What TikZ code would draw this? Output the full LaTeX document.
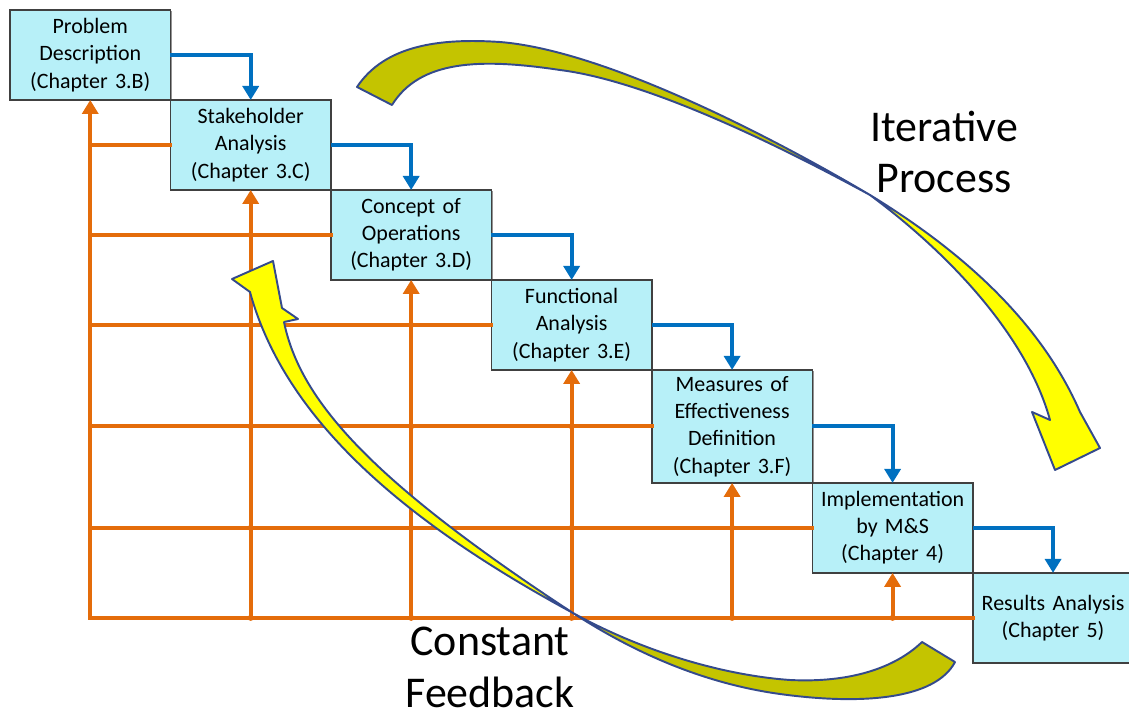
\documentclass[tikz,border=0pt]{standalone}
\usepackage{fontspec}
\setmainfont{Carlito}
\usetikzlibrary{arrows.meta, positioning, shadows}

\definecolor{boxcyan}{RGB}{183,240,248}
\definecolor{flowblue}{RGB}{0,112,192}
\definecolor{feedorange}{RGB}{228,108,10}
\definecolor{ribbonyellow}{RGB}{255,255,0}
\definecolor{ribbonolive}{RGB}{196,196,0}
\definecolor{ribbonedge}{RGB}{52,74,140}

\begin{document}
\begin{tikzpicture}[
        x=0.02cm, y=-0.02cm,
        % Process steps
        stepbox/.style={
                rectangle,
                draw=black!75,
                line width=0.8pt,
                fill=boxcyan,
                minimum width=3.21cm,
                minimum height=1.8cm,
                text width=3cm,
                align=center,
                inner sep=2pt,
                outer sep=0pt,
                font=\fontsize{12.5}{15.5}\selectfont,
                drop shadow={shadow xshift=0.8pt, shadow yshift=-0.8pt, fill=black!60, opacity=0.7}
            },
        % Forward flow
        flow/.style={
                -{Triangle[length=2.8mm, width=3.2mm]},
                line width=2.3pt,
                color=flowblue
            },
        % Feedback grid
        feedline/.style={
                line width=2.3pt,
                line cap=rect,
                color=feedorange
            },
        feed/.style={
                feedline,
                -{Triangle[length=2.8mm, width=3.2mm]}
            },
        % Curved ribbon arrows
        ribbonback/.style={
                fill=ribbonolive,
                draw=ribbonedge,
                line width=1.1pt,
                line join=round
            },
        ribbonfront/.style={
                ribbonback,
                fill=ribbonyellow
            },
        bigtext/.style={
                align=center,
                font=\fontsize{25}{29.5}\selectfont
            }
    ]

    \useasboundingbox (0,0) rectangle (1129,716);

    % Staircase of steps
    \node[stepbox, anchor=north west] (prob) at (10,10) {Problem\\Description\\(Chapter 3.B)};
    \node[stepbox, anchor=north west] (stake) at (prob.south east) {Stakeholder\\Analysis\\(Chapter 3.C)};
    \node[stepbox, anchor=north west] (conops) at (stake.south east) {Concept of\\Operations\\(Chapter 3.D)};
    \node[stepbox, anchor=north west] (func) at (conops.south east) {Functional\\Analysis\\(Chapter 3.E)};
    \node[stepbox, anchor=north west, minimum height=2.26cm] (moe) at (func.south east) {Measures of\\Effectiveness\\Definition\\(Chapter 3.F)};
    \node[stepbox, anchor=north west] (impl) at (moe.south east) {Implementation\\by M\&S\\(Chapter 4)};
    \node[stepbox, anchor=north west] (results) at (impl.south east) {Results Analysis\\(Chapter 5)};

    % Flow and feedback
    \foreach \a/\b in {prob/stake, stake/conops, conops/func, func/moe, moe/impl, impl/results} {
        \draw[flow] (\a.east) -| (\b.north);
        \draw[feedline] (prob.south |- \b.west) -- (\b.west);
        \draw[feed] (\a.south |- results.west) -- (\a.south);
    }

    % Junctions
    \foreach \a/\i in {stake/1, conops/2, func/3, moe/4, impl/5}
        \foreach \b/\j in {conops/2, func/3, moe/4, impl/5, results/6} {
            \ifnum\j>\i
                \fill[feedorange] (\a.south |- \b.west) circle[radius=3];
            \fi
        }

    % Iterative process arrow
    \filldraw[ribbonback] (357,87) .. controls (385,45) and (440,38) .. (500,42)
        .. controls (600,50) and (760,130) .. (870,195)
        .. controls (760,135) and (640,80) .. (560,70)
        .. controls (480,58) and (420,60) .. (392,105) -- cycle;
    \filldraw[ribbonfront] (870,195) .. controls (960,250) and (1040,320) .. (1080,412)
        -- (1100,448) -- (1055,470) -- (1032,412) -- (1050,420)
        .. controls (1028,340) and (955,258) .. (870,195) -- cycle;

    % Constant feedback arrow
    \filldraw[ribbonback] (955,662) .. controls (935,700) and (860,705) .. (780,694)
        .. controls (700,683) and (630,650) .. (573,613)
        .. controls (640,650) and (720,675) .. (790,680)
        .. controls (850,683) and (895,668) .. (922,642) -- cycle;
    \filldraw[ribbonfront] (573,613) .. controls (405,522) and (285,420) .. (250,292)
        -- (232,279) -- (273,261) -- (282,308) -- (298,319) -- (284,322)
        .. controls (300,400) and (370,480) .. (573,613) -- cycle;

    % Labels
    \node[bigtext] (iter) at (944,152) {Iterative\\Process};
    \node[bigtext] (constfb) at (490,667) {Constant\\Feedback};

\end{tikzpicture}
\end{document}
